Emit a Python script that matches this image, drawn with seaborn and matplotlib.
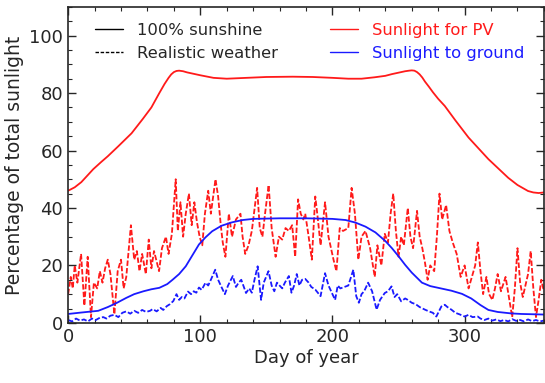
import numpy as np
import pandas as pd
import matplotlib
matplotlib.use("Agg")
import matplotlib.pyplot as plt
from matplotlib.lines import Line2D
from matplotlib.ticker import MultipleLocator
import seaborn as sns

# ---- data ----
pv_clear_day = [0, 5, 10, 15, 19, 25, 30, 38, 48, 56.5, 63, 69, 73, 76, 78, 80, 82, 84, 87, 90, 95,
                100, 110, 120, 135, 150, 170, 185, 200, 212, 222, 232, 240, 245, 250, 255, 258,
                260, 262, 264, 266, 268, 270, 273, 276, 280, 285, 293, 303, 318, 333, 340, 348,
                352, 356, 360]
pv_clear_val = [46, 47.2, 49, 51.5, 53.5, 56, 58, 61.5, 66, 71, 75, 80, 83.2, 85.3, 86.5, 87.3, 87.7,
                87.8, 87.6, 87.2, 86.7, 86.2, 85.3, 85.0, 85.3, 85.6, 85.7, 85.6, 85.3, 85.0, 85.0,
                85.5, 86.0, 86.6, 87.1, 87.6, 87.8, 87.9, 87.8, 87.3, 86.5, 85.4, 84.0, 82.2, 80.3,
                78.0, 75.5, 70.5, 64.5, 57, 50.5, 48.0, 45.9, 45.4, 45.2, 45.4]

ground_clear_day = [0, 10, 22.8, 30, 37, 44, 50, 57, 63, 69, 75, 79, 84, 89, 94, 99, 104, 109, 116,
                    124, 132, 140, 160, 180, 200, 210, 217.5, 225, 232.5, 240, 245, 250, 255, 260,
                    267.7, 274, 280, 290, 298, 305, 312, 318, 325, 335, 343, 360]
ground_clear_val = [3.1, 3.6, 4.2, 5.5, 7, 8.7, 10, 11, 11.7, 12.2, 13.5, 15, 17, 19.7, 23.5, 27.3,
                    29.8, 31.9, 33.8, 35, 35.8, 36.2, 36.4, 36.4, 36.2, 35.8, 34.9, 33.5, 31.5, 28.5,
                    26, 23.2, 20.2, 17.5, 14, 12.8, 12.2, 11.2, 10.1, 8.5, 6.2, 4.5, 3.8, 3.3, 3.1, 2.9]

pv_real_day = [0, 2, 3.5, 5, 7, 9.8, 12.3, 14.8, 17.3, 19.5, 22, 24, 26, 28, 30, 32, 35, 37.5, 40,
               42, 44, 47.5, 50, 52, 54, 56, 58.8, 61, 63, 65, 68.8, 71, 74, 76, 78.5, 81.4, 83,
               85, 87, 89, 91.4, 93.5, 95.5, 97.5, 99.5, 101.5, 103.5, 106, 108, 111.5, 113.5,
               115.5, 117, 119, 121.6, 124, 127, 130.4, 132, 134, 136.5, 139, 143, 145, 147, 149,
               151.7, 154, 157, 159.5, 162, 164.5, 167, 169.5, 171.8, 174, 176, 178, 179.4, 182,
               184.4, 187, 189, 191, 194.4, 197, 200.8, 203, 205.5, 208, 212, 214.5, 217, 219.6,
               222, 225, 228.5, 232, 234, 237, 239.6, 242, 244, 246, 248, 250, 252, 254, 257, 259,
               261, 264, 266, 268, 270, 272, 274, 277, 279, 281, 283, 286, 288.5, 291, 294, 297,
               300, 303, 305.5, 308, 310, 312, 314, 316.5, 318.5, 321, 323, 325, 327.5, 331,
               333.5, 336, 338, 340, 342, 344, 346, 348, 350, 352, 354, 356, 358, 360]
pv_real_val = [10, 16, 12, 20, 14, 24, 6, 23, 2, 14, 12, 18, 14, 19, 22, 17, 3, 18, 22,
               12, 16, 34, 22, 25, 18, 24, 17, 29, 19, 25, 18, 26, 30, 24, 31, 50, 32,
               42, 30, 38, 45, 34, 42, 35, 30, 27, 38, 46, 38, 50, 44,
               34, 28, 23, 38, 30, 36, 38, 30, 24, 27, 32, 47, 33, 30, 38,
               48, 33, 23, 30, 29, 33, 32, 34, 23, 43, 38, 36, 38, 30,
               22, 44, 36, 27, 42, 30, 22, 18, 33, 32, 33, 47, 38, 22,
               30, 32, 26, 16, 27, 20, 31, 28, 38, 45, 32, 23, 30, 27, 40, 30,
               26, 39, 30, 26, 21, 15, 20, 18, 30, 45, 36, 41, 32, 28, 24, 16,
               20, 12, 16, 20, 28, 18, 10, 16, 10, 8, 12, 17, 11, 16,
               9, 2, 12, 26, 14, 9, 13, 17, 25, 12, 2, 8, 15, 11]

ground_real_day = [0, 3, 6, 9, 12, 15, 18, 21, 24, 26.6, 29, 32, 35, 38, 41, 44, 47, 50, 53, 56, 59,
                   62, 64, 67, 70, 72, 74.6, 77, 79.6, 82, 84, 86, 88, 90.7, 93, 95, 97, 99, 101,
                   104, 106, 108, 111.3, 113.5, 116, 118.6, 121, 124.6, 127, 129, 131, 134.6, 137,
                   139, 141, 143.4, 146, 148, 151.6, 154, 156, 158, 160, 162, 164, 167, 169, 171,
                   173, 175, 177, 179.4, 182, 184, 187, 191, 194.4, 197, 199, 202, 204, 206, 209,
                   212, 215.8, 218, 220, 222, 224, 227, 230, 233.4, 236, 239.6, 242, 244.7, 247,
                   249, 252, 255, 257, 260, 263, 266, 270, 273, 276, 278.6, 282.4, 285, 287, 290,
                   293, 296, 300, 303, 306, 310, 312, 315, 318, 321, 324, 327, 330, 333, 336, 339,
                   342, 345, 348, 351, 354, 357, 360]
ground_real_val = [1, 0.5, 1.5, 0.8, 1.2, 0.5, 1.5, 1, 1.8, 2, 1.5, 2.5, 2.8, 2, 3.5, 4, 3.2, 4.2,
                   3.5, 4.5, 3.8, 4.2, 4.8, 4, 5.2, 4.5, 5.8, 6.5, 7.6, 10, 8, 9, 8.5, 10.9, 10, 11,
                   10.5, 12.3, 11.5, 14, 13, 15, 18.5, 15, 12.5, 10, 13, 16.3, 12.5, 14, 15, 10.4,
                   12, 10.5, 15, 19.7, 8, 14, 18, 13, 11, 14, 13, 12, 14, 16.3, 10.5, 13, 17, 13,
                   15, 15.3, 14, 12.5, 11.6, 9.3, 17.3, 13, 11, 8, 13, 12, 12.5, 13, 18.5, 9.3, 7,
                   10, 11, 14, 11, 4.6, 8, 10.4, 11, 12.7, 9, 10, 7.5, 8.5, 8, 7, 6.5, 5.5, 4.6, 4,
                   3.5, 2.2, 5.7, 6.3, 5.5, 4.6, 3.5, 3, 2.2, 2.8, 2, 2.2, 1.5, 1, 1.5, 0.8, 1.2,
                   0.6, 1, 0.5, 1.3, 0.7, 1, 0.5, 1.2, 0.6, 1, 0.5, 0.8]

x_ticks = [0, 100, 200, 300]
y_ticks = [0, 20, 40, 60, 80, 100]

# ---- styling ----
sns.set_style("ticks")
plt.rcParams.update({
    "font.family": ["DejaVu Sans"],
    "xtick.direction": "in", "ytick.direction": "in",
    "xtick.top": True, "ytick.right": True,
    "xtick.major.size": 6, "ytick.major.size": 6,
    "xtick.minor.size": 3, "ytick.minor.size": 3,
    "xtick.minor.visible": True, "ytick.minor.visible": True,
})

RED = "#ff1a1a"
BLUE = "#1a1aff"

fig = plt.figure(figsize=(5.45, 3.83), dpi=100)
ax = fig.add_axes([0.125, 0.157, 0.873, 0.825])

dash = (3.0, 1.2)
sns.lineplot(x=pv_real_day, y=pv_real_val, ax=ax, color=RED, lw=1.3,
             linestyle=(0, dash), sort=False)
sns.lineplot(x=ground_real_day, y=ground_real_val, ax=ax, color=BLUE, lw=1.3,
             linestyle=(0, dash), sort=False)
sns.lineplot(x=pv_clear_day, y=pv_clear_val, ax=ax, color=RED, lw=1.3, sort=False)
sns.lineplot(x=ground_clear_day, y=ground_clear_val, ax=ax, color=BLUE, lw=1.3, sort=False)

ax.set_xlim(0, 360)
ax.set_ylim(0, 110)
ax.set_xticks(x_ticks)
ax.set_yticks(y_ticks)
ax.xaxis.set_minor_locator(MultipleLocator(20))
ax.yaxis.set_minor_locator(MultipleLocator(5))
ax.tick_params(labelsize=13, width=1.0)
ax.tick_params(which="minor", width=0.8)
for s in ax.spines.values():
    s.set_linewidth(1.2)
ax.set_xlabel("Day of year", fontsize=13, labelpad=2)
ax.set_ylabel("Percentage of total sunlight", fontsize=13.5, labelpad=4)

h1 = [Line2D([], [], color="black", lw=1.0),
      Line2D([], [], color="black", lw=1.0, linestyle=(0, (2.5, 1.2)))]
leg1 = ax.legend(h1, ["100% sunshine", "Realistic weather"], loc="upper left",
                 bbox_to_anchor=(0.025, 0.995), frameon=False, fontsize=11.8,
                 handlelength=1.7, handletextpad=0.85, labelspacing=0.45)
ax.add_artist(leg1)
h2 = [Line2D([], [], color=RED, lw=1.0), Line2D([], [], color=BLUE, lw=1.0)]
leg2 = ax.legend(h2, ["Sunlight for PV", "Sunlight to ground"], loc="upper left",
                 bbox_to_anchor=(0.52, 0.995), frameon=False, fontsize=11.8,
                 handlelength=1.7, handletextpad=0.85, labelspacing=0.45)
for t, c in zip(leg2.get_texts(), [RED, BLUE]):
    t.set_color(c)

fig.savefig("out.png", dpi=100)
